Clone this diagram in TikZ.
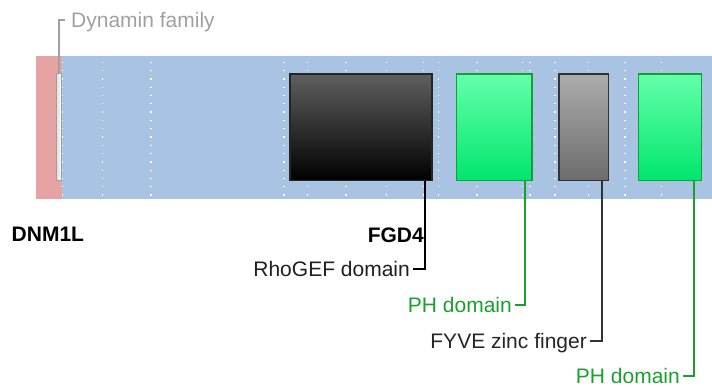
\documentclass[tikz,border=0pt]{standalone}
\usepackage{fontspec}
\setmainfont{Liberation Sans}
\definecolor{redbg}{RGB}{229,163,163}
\definecolor{bluebg}{RGB}{168,196,226}
\definecolor{phtop}{RGB}{100,255,170}
\definecolor{phbot}{RGB}{0,230,110}
\definecolor{phline}{RGB}{20,160,50}
\definecolor{labgreen}{RGB}{25,160,45}
\definecolor{dyngray}{RGB}{160,160,160}
\definecolor{rhotop}{RGB}{95,95,95}
\definecolor{fyvetop}{RGB}{172,172,172}
\definecolor{fyvebot}{RGB}{108,108,108}
\begin{document}
\begin{tikzpicture}[x=1pt,y=-1pt,
  every node/.style={font=\fontsize{21}{25}\selectfont},
  dombox/.style={draw, line width=1.3pt, inner sep=0pt, rectangle},
  lab/.style={inner ysep=0pt, inner xsep=3pt, text height=15pt, text depth=0pt, anchor=east},
  leader/.style={line width=2pt},
  dots/.style={white, line width=1.3pt, dash pattern=on 1.3pt off 7pt}]
\useasboundingbox (0,0) rectangle (712,387);
% background bands
\fill[redbg] (36,56) rectangle (62,199);
\fill[bluebg] (62,56) rectangle (712,199);
\foreach \x in {62.5,102.3,151,284,307.3,346,386.7,423.3,438.7,477,522.7,530,555,588.3,625,661.7}
  \draw[dots] (\x,61.7) -- (\x,199);
% domain boxes
\node[dombox, draw=dyngray, left color=black!12, right color=white, minimum width=5pt, minimum height=107pt] (dyn) at (59.3,127.2) {};
\node[dombox, draw=black!85, top color=rhotop, bottom color=black, minimum width=142pt, minimum height=106.5pt] (rho) at (361,127.2) {};
\node[dombox, draw=phline, top color=phtop, bottom color=phbot, minimum width=75.5pt, minimum height=106.5pt] (ph1) at (494.3,127.2) {};
\node[dombox, draw=black!80, top color=fyvetop, bottom color=fyvebot, minimum width=49.8pt, minimum height=106.5pt] (fyve) at (583.8,127.2) {};
\node[dombox, draw=phline, top color=phtop, bottom color=phbot, minimum width=63.4pt, minimum height=106.5pt] (ph2) at (670,127.2) {};
% gene names
\node[font=\fontsize{21}{25}\selectfont\bfseries, anchor=base west, inner sep=0pt] (dnm) at (11.5,242) {DNM1L};
\node[font=\fontsize{21}{25}\selectfont\bfseries, anchor=base east, inner sep=0pt] (fgd) at (424,242.5) {FGD4};
% labels
\node[anchor=west, inner ysep=0pt, inner xsep=6pt, text height=15pt, text depth=0pt, text=dyngray] (dynlab) at (65,20.5) {Dynamin family};
\node[lab, text=black!88] (rholab) at (413,269) {RhoGEF domain};
\node[lab, text=labgreen] (ph1lab) at (515,305) {PH domain};
\node[lab, text=black!85] (fyvelab) at (590,341) {FYVE zinc finger};
\node[lab, text=labgreen] (ph2lab) at (683,375.5) {PH domain};
% leader x positions
\coordinate (rhoX) at (425,0);
\coordinate (ph1X) at (525.3,0);
\coordinate (fyveX) at (601.7,0);
\coordinate (ph2X) at (694.3,0);
\coordinate (rhoL) at (rho.south -| rhoX);
\coordinate (ph1L) at (ph1.south -| ph1X);
\coordinate (fyveL) at (fyve.south -| fyveX);
\coordinate (ph2L) at (ph2.south -| ph2X);
% leaders
\draw[leader, dyngray] (dyn.north) |- (dynlab.west);
\draw[leader, black] (rhoL) |- (rholab.east);
\draw[leader, labgreen] (ph1L) |- (ph1lab.east);
\draw[leader, black!80] (fyveL) |- (fyvelab.east);
\draw[leader, labgreen] (ph2L) |- (ph2lab.east);
\end{tikzpicture}
\end{document}
